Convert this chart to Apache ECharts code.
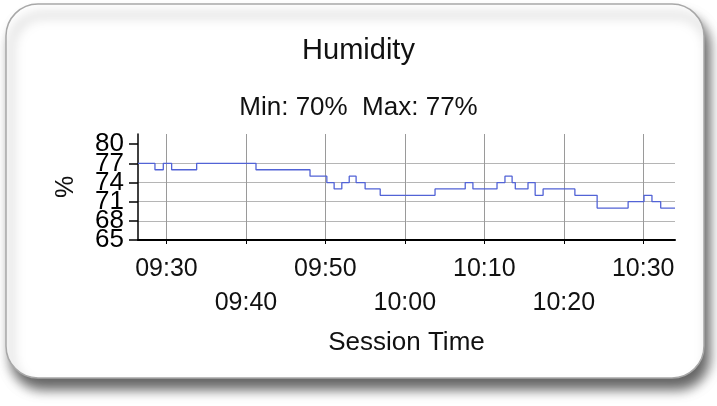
<!DOCTYPE html>
<html>
<head>
<meta charset="utf-8">
<script src="https://cdn.jsdelivr.net/npm/echarts@6/dist/echarts.min.js"></script>
<style>
html,body{margin:0;padding:0;background:#ffffff;}
#c{width:717px;height:406px;}
</style>
</head>
<body>
<div id="c"></div>
<script>
// Step changes of humidity (time of change, value held until next change)
var times = ['09:26:25','09:28:33','09:29:36','09:30:39','09:33:48','09:41:16','09:48:04','09:50:11','09:51:06','09:52:04','09:53:00','09:53:52','09:55:00','09:56:54','10:03:48','10:07:36','10:08:34','10:11:36','10:12:36','10:13:30','10:13:54','10:15:30','10:16:24','10:17:24','10:21:24','10:24:12','10:28:06','10:30:06','10:31:06','10:32:12','10:34:00'];
var values = [77,76,77,76,77,76,75,74,73,74,75,74,73,72,73,74,73,74,75,74,73,74,72,73,72,70,71,72,71,70,70];
var xTickLabels = ['09:30','09:40','09:50','10:00','10:10','10:20','10:30'];
var yTicks = [65,68,71,74,77,80];

function toMin(s){var p=s.split(':');return (+p[0]-9)*60 + (+p[1]) + (p[2]?(+p[2])/60:0);}
function fmt(m){var h=9+Math.floor(m/60);var mm=Math.round(m-(h-9)*60);return (h<10?'0':'')+h+':'+(mm<10?'0':'')+mm;}

var data = times.map(function(t,i){return [toMin(t), values[i]];});
var xTicks = xTickLabels.map(function(s){return toMin(s);});
var xMin = toMin(times[0]), xMax = toMin(times[times.length-1]);
var vmin = Math.min.apply(null, values), vmax = Math.max.apply(null, values);

var chart = echarts.init(document.getElementById('c'), null, {renderer:'canvas'});
var font = 'Liberation Sans, Arial, sans-serif';
chart.setOption({
  animation:false,
  backgroundColor:'#ffffff',
  graphic:[{
    type:'rect', z:-10, silent:true,
    shape:{x:6,y:4,width:698,height:374,r:32},
    style:{fill:'#ffffff',stroke:'#a8a8a8',lineWidth:1.5,
      shadowBlur:12,shadowColor:'rgba(0,0,0,0.6)',shadowOffsetX:5,shadowOffsetY:11}
  }],
  title:[
    {text:'Humidity',left:'center',top:31,textStyle:{fontFamily:font,fontSize:29,fontWeight:'normal',color:'#111'}},
    {text:'Min: '+vmin+'%  Max: '+vmax+'%',left:'center',top:90,textStyle:{fontFamily:font,fontSize:26,fontWeight:'normal',color:'#111'}}
  ],
  grid:{left:138,top:134,width:537,height:106,containLabel:false},
  xAxis:{
    type:'value', min:xMin, max:xMax,
    name:'Session Time', nameLocation:'middle', nameGap:90,
    nameTextStyle:{fontFamily:font,fontSize:26,color:'#111'},
    axisLine:{show:true,onZero:false,lineStyle:{color:'#000',width:2}},
    axisTick:{show:true,length:4,customValues:xTicks,lineStyle:{color:'#000'}},
    axisLabel:{customValues:xTicks,fontFamily:font,fontSize:25,color:'#111',margin:12,lineHeight:34,
      formatter:function(v){var k=Math.round((v-xTicks[0])/10);return (k%2===1?'\n':'')+fmt(v);}},
    splitLine:{show:true,lineStyle:{color:'#9a9a9a',width:1}}
  },
  yAxis:{
    type:'value', min:yTicks[0], max:81.6, interval:yTicks[1]-yTicks[0],
    name:'%', nameLocation:'middle', nameGap:59, nameRotate:90,
    nameTextStyle:{fontFamily:font,fontSize:25,color:'#111'},
    axisLine:{show:true,onZero:false,lineStyle:{color:'#000',width:1.5}},
    axisTick:{show:true,length:9,customValues:yTicks,lineStyle:{color:'#000',width:1.5}},
    axisLabel:{show:false},
    splitLine:{show:true,showMaxLine:false,lineStyle:{color:'#b5b5b5',width:1}}
  },
  series:[{
    type:'line', step:'end', data:data, showSymbol:false, symbol:'none',
    lineStyle:{color:'#5263d6',width:1.3}
  },{
    type:'scatter', silent:true, symbolSize:0, clip:false,
    itemStyle:{color:'#000',opacity:1},
    data:yTicks.map(function(v){return [xMin, v];}),
    label:{show:true,position:'left',distance:14,formatter:function(p){return String(p.value[1]);},
      fontFamily:font,fontSize:26,color:'#000',opacity:1,textBorderWidth:0},
    labelLayout:{hideOverlap:false}
  }]
});
</script>
</body>
</html>
